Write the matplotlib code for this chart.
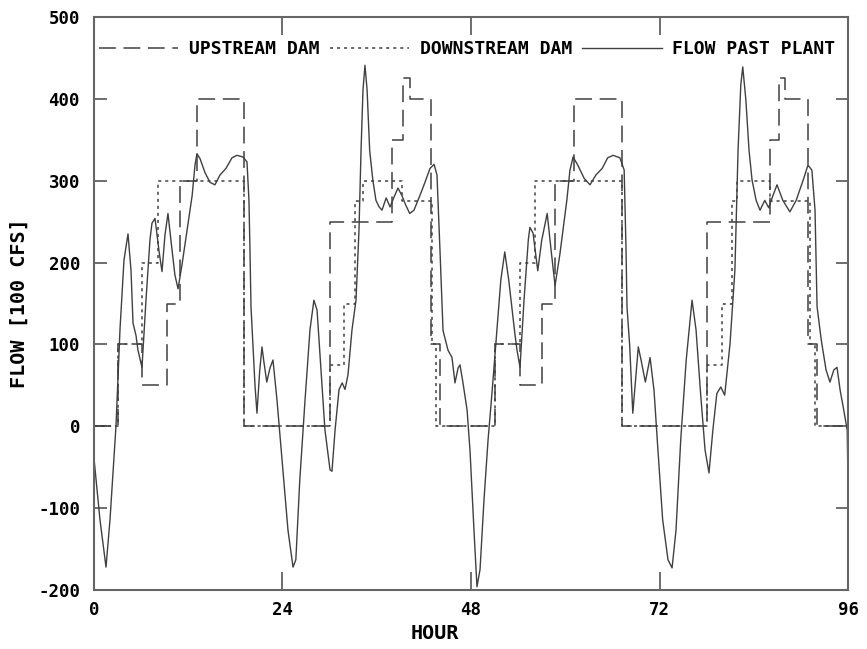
import matplotlib
matplotlib.use("Agg")
import matplotlib.pyplot as plt
from matplotlib.font_manager import FontProperties
import numpy as np

plt.rcParams['axes.unicode_minus'] = False

# step releases (hour where each level starts, level in 100 cfs)
up_hours = [0, 3.0, 6.1, 9.3, 10.9, 13.1, 19.1, 30.0, 38.0, 39.4, 40.2, 42.9, 44.0,
            51.0, 54.2, 57.0, 58.7, 61.1, 67.2, 78.0, 86.1, 87.2, 88.0, 90.9, 92.0, 96]
up_flow = [0, 100, 50, 150, 300, 400, 0, 250, 350, 425, 400, 100, 0,
           100, 50, 150, 300, 400, 0, 250, 350, 425, 400, 100, 0, 0]

down_hours = [0, 3.0, 6.1, 8.1, 19.1, 30.1, 31.8, 33.2, 34.2, 39.2, 43.0, 43.6,
              51.0, 54.2, 56.1, 67.2, 78.1, 80.0, 81.2, 81.9, 86.1, 91.1, 91.8, 96]
down_flow = [0, 100, 200, 300, 0, 75, 150, 275, 300, 275, 100, 0,
             100, 200, 300, 0, 75, 150, 275, 300, 275, 100, 0, 0]

# flow past plant
plant_hours = [0, 0.76, 1.53, 2.04, 2.8, 3.31, 3.82, 4.33, 4.71, 4.97, 5.35, 5.6, 6.11,
               6.62, 7.13, 7.38, 7.77, 8.28, 8.66, 9.04, 9.42, 9.8, 10.3, 10.7, 11.2,
               11.84, 12.5, 12.86, 13.11, 13.5, 14.13, 14.77, 15.4, 16.04, 16.8, 17.57,
               18.2, 18.97, 19.48, 19.73, 19.86, 19.99, 20.24, 20.5, 20.75, 21.1, 21.39,
               21.6, 22.0, 22.4, 22.79, 23.3, 23.94, 24.7, 25.34, 25.7, 26.2, 26.87,
               27.5, 28.0, 28.4, 28.9, 29.4, 30.05, 30.3, 30.7, 31.2, 31.6, 31.96,
               32.34, 32.85, 33.36, 33.74, 34.0, 34.25, 34.5, 34.77, 35.1, 35.5, 35.9,
               36.3, 36.67, 37.2, 37.7, 38.2, 38.7, 39.2, 39.7, 40.2, 40.74, 41.5,
               42.1, 42.78, 43.3, 43.67, 44.05, 44.44, 45.07, 45.58, 45.96, 46.35,
               46.6, 46.98, 47.5, 47.87, 48.38, 48.76, 49.15, 49.66, 50.17,
               50.7, 51.3, 51.8, 52.3, 52.8, 53.2, 53.6, 53.86, 54.24, 54.75, 55.3,
               55.5, 55.9, 56.5, 57.0, 57.7, 58.2, 58.7, 59.3, 59.8, 60.2, 60.6, 61.0,
               61.6, 62.4, 63.15, 63.9, 64.7, 65.4, 66.1, 66.96, 67.5, 67.74, 67.86,
               68.2, 68.6, 69.3, 69.65, 70.2, 70.8, 71.3, 71.8, 72.4, 73.08, 73.6,
               74.1, 74.7, 75.4, 76.14, 76.65, 77.2, 77.8, 78.3, 78.8, 79.3, 79.8,
               80.3, 80.98, 81.6, 82.0, 82.35, 82.6, 83.0, 83.4, 83.78, 84.3, 84.8,
               85.4, 85.9, 86.45, 86.96, 87.7, 88.6, 89.4, 90.3, 90.9, 91.4, 91.8,
               92.06, 92.6, 93.2, 93.7, 94.2, 94.6, 95.0, 95.4, 95.9, 96]
plant_flow = [-39, -114, -172, -114, 0, 118, 203, 235, 191, 126, 111, 93, 72,
              154, 228, 248, 254, 214, 189, 234, 260, 227, 185, 168, 197,
              239, 282, 319, 333, 327, 310, 298, 295, 307, 315, 328,
              331, 329, 323, 276, 215, 146, 99, 50, 16, 68, 97,
              81, 54, 71, 81, 32, -41, -127, -172, -163, -66, 32,
              118, 154, 142, 69, -4, -53, -55, -4, 45, 53, 45,
              63, 118, 154, 240, 337, 411, 441, 411, 337, 301, 276,
              268, 264, 279, 268, 280, 291, 282, 270, 260, 264, 282,
              297, 315, 320, 307, 215, 117, 93, 84, 53, 71,
              75, 53, 20, -29, -127, -196, -175, -89, -17,
              44, 118, 179, 213, 179, 146, 112, 93, 72, 154, 228,
              243, 236, 190, 227, 260, 215, 172, 209, 246, 276, 313, 329,
              319, 303, 295, 307, 315, 328, 331, 328, 313, 215, 146,
              99, 16, 97, 81, 54, 84, 44, -29, -114, -163, -173,
              -127, -17, 81, 154, 118, 44, -29, -57, -4, 40, 48,
              38, 101, 191, 337, 417, 439, 398, 337, 301, 276, 264,
              276, 267, 282, 295, 276, 262, 276, 301, 319, 313, 264,
              146, 105, 69, 54, 69, 72, 44, 23, -5, -70]

tick_font = FontProperties(family='DejaVu Sans Mono', weight='bold', size=12.5)
legend_font = FontProperties(family='DejaVu Sans Mono', weight='bold', size=13)
label_font = FontProperties(family='DejaVu Sans Mono', weight='bold', size=14.5)
ink = '#404040'

fig = plt.figure(figsize=(8.67, 6.49), dpi=100)
ax = fig.add_axes([0.1084, 0.0909, 0.8697, 0.8829])

ax.plot(up_hours, up_flow, drawstyle='steps-post', color=ink, lw=1.1,
        dashes=(11, 5), label='UPSTREAM DAM')
ax.plot(down_hours, down_flow, drawstyle='steps-post', color=ink, lw=1.1,
        dashes=(2, 2.6), label='DOWNSTREAM DAM')
ax.plot(plant_hours, plant_flow, color=ink, lw=1.0, label='FLOW PAST PLANT')

ax.set_xlim(0, 96)
ax.set_ylim(-200, 500)
ax.set_xticks([0, 24, 48, 72, 96])
ax.set_yticks(np.arange(-200, 501, 100))
ax.tick_params(axis='both', direction='in', top=True, right=True, color='#555555',
               width=1.2)
ax.tick_params(axis='x', length=13, pad=8)
ax.tick_params(axis='y', length=9, pad=10)
for lab in ax.get_xticklabels() + ax.get_yticklabels():
    lab.set_fontproperties(tick_font)
for s in ax.spines.values():
    s.set_color('#666666')
    s.set_linewidth(1.5)

ax.set_xlabel('HOUR', fontproperties=label_font)
ax.xaxis.set_label_coords(0.452, -0.060)
ax.set_ylabel('FLOW [100 CFS]', fontproperties=label_font)
ax.yaxis.set_label_coords(-0.086, 0.5)

ax.legend(loc='upper center', bbox_to_anchor=(0.495, 0.979), ncol=3, frameon=False,
          prop=legend_font, handlelength=4.4, handletextpad=0.6, columnspacing=0.55,
          borderaxespad=0.2)

fig.savefig('out.png', dpi=100)
